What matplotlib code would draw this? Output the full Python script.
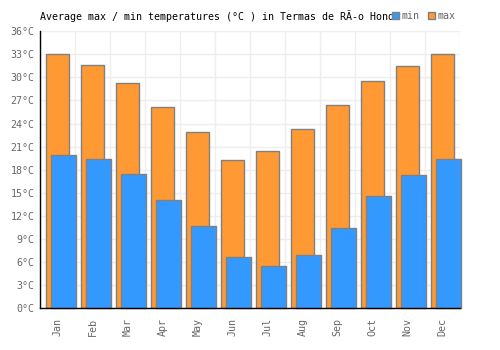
import matplotlib
matplotlib.use("Agg")
import matplotlib.pyplot as plt
import numpy as np
from matplotlib.patches import Patch

months = ["Jan", "Feb", "Mar", "Apr", "May", "Jun", "Jul", "Aug", "Sep", "Oct", "Nov", "Dec"]
max_temps = [33.0, 31.6, 29.3, 26.1, 22.9, 19.2, 20.4, 23.3, 26.4, 29.5, 31.5, 33.0]
min_temps = [19.9, 19.4, 17.4, 14.1, 10.7, 6.7, 5.5, 6.9, 10.4, 14.6, 17.3, 19.4]
yticks = list(range(0, 37, 3))

plt.rcParams['font.family'] = ['DejaVu Sans Mono', 'DejaVu Sans']

fig = plt.figure(figsize=(5, 3.5), dpi=100)
ax = fig.add_axes([0.08, 0.12, 0.84, 0.7906])

x = np.arange(len(months))
ax.bar(x, max_temps, width=0.66, color='#ff9933', edgecolor='#808080', linewidth=1, zorder=2.1)
ax.bar(x + 0.17, min_temps, width=0.70, color='#3399ff', edgecolor='#808080', linewidth=1, zorder=2.2, clip_on=False)

ax.set_xlim(-0.5, 11.5)
ax.set_ylim(0, 36)
ax.set_yticks(yticks)
ax.set_yticklabels([f"{t}°C" for t in yticks])
ax.set_xticks(x)
ax.set_xticklabels(months, rotation=90)
ax.set_xticks(np.arange(-0.5, 12, 1), minor=True)
ax.grid(True, which='minor', axis='x', color='#eeeeee', linewidth=1, zorder=0)
ax.grid(True, which='major', axis='y', color='#eeeeee', linewidth=1, zorder=0)
ax.set_axisbelow(True)
ax.tick_params(axis='both', which='both', length=0, labelsize=7.2, labelcolor='#666666')
ax.tick_params(axis='x', pad=7)
ax.tick_params(axis='y', pad=4)
for s in ['top', 'right']:
    ax.spines[s].set_visible(False)
for s in ['left', 'bottom']:
    ax.spines[s].set_color('black')
    ax.spines[s].set_linewidth(1)
    ax.spines[s].set_zorder(5)

fig.text(40 / 500, 1 - 16 / 350, "Average max / min temperatures (°C ) in Termas de RÃ\u00ado Hondo",
         fontsize=7.2, color='black', ha='left', va='center')

handles = [Patch(facecolor='#3399ff', edgecolor='#808080', label='min'),
           Patch(facecolor='#ff9933', edgecolor='#808080', label='max')]
fig.legend(handles=handles, loc='center left', bbox_to_anchor=(392 / 500, 1 - 16 / 350), ncol=2,
           frameon=False, fontsize=7.2, labelcolor='#666666', handlelength=0.7, handleheight=0.7,
           handletextpad=0.3, columnspacing=0.8, borderpad=0, borderaxespad=0)

fig.savefig("out.png", dpi=100)
